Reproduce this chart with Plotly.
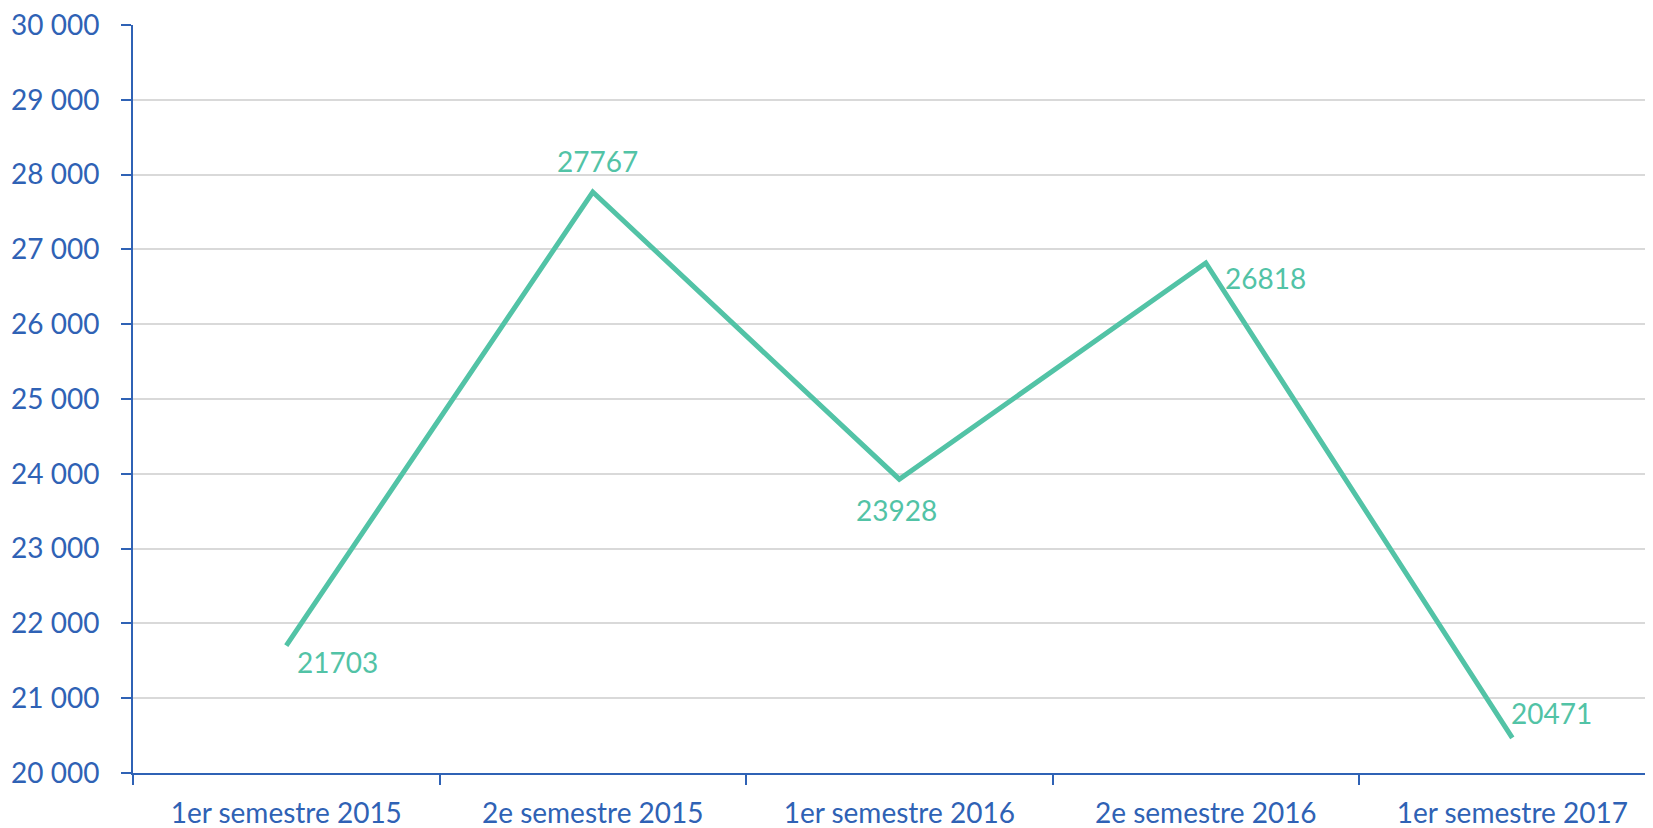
import plotly.graph_objects as go

categories = ["1er semestre 2015", "2e semestre 2015", "1er semestre 2016", "2e semestre 2016", "1er semestre 2017"]
values = [21703, 27767, 23928, 26818, 20471]

# label offsets in pixels (style only)
label_dx = [51, 5, -3, 60, 39]
label_dy = [-16, 31, -31, -15, 25]

LINE = "#52C3A6"
BLUE = "#2F62B5"
FONT = "Lato, 'Open Sans', sans-serif"
FS = 28

fig = go.Figure()
fig.add_trace(go.Scatter(
    x=categories, y=values, mode="lines",
    line=dict(color=LINE, width=5),
    hoverinfo="skip",
))
for c, v, dx, dy in zip(categories, values, label_dx, label_dy):
    fig.add_annotation(
        x=c, y=v, text=str(v), showarrow=False,
        xshift=dx, yshift=dy, xanchor="center", yanchor="middle",
        font=dict(color=LINE, size=FS, family=FONT),
    )

fig.update_layout(
    width=1645, height=820,
    margin=dict(l=125, r=0, t=17, b=55, autoexpand=False),
    paper_bgcolor="white", plot_bgcolor="white",
    separators=", ",
    showlegend=False,
    font=dict(family=FONT, color=BLUE, size=FS),
)
fig.update_xaxes(
    type="category",
    range=[-0.5, 4.459],
    showline=True, linecolor=BLUE, linewidth=2,
    ticks="outside", tickson="boundaries", ticklen=10, tickcolor=BLUE, tickwidth=1.5,
    showgrid=False,
    tickfont=dict(color=BLUE, size=FS, family=FONT),
    ticklabelstandoff=14,
)
fig.update_yaxes(
    range=[20000, 30000], tickmode="array",
    tickvals=list(range(20000, 30001, 1000)),
    ticktext=[f"{v // 1000} 000" for v in range(20000, 30001, 1000)],
    showline=True, linecolor=BLUE, linewidth=2,
    ticks="outside", ticklen=10, tickcolor=BLUE, tickwidth=1.5,
    showgrid=True, gridcolor="#D9D9D9", gridwidth=1.5,
    zeroline=False,
    tickfont=dict(color=BLUE, size=FS, family=FONT),
    ticklabelstandoff=16,
    ticklabeloverflow="allow",
)

fig.write_html("out.html")
